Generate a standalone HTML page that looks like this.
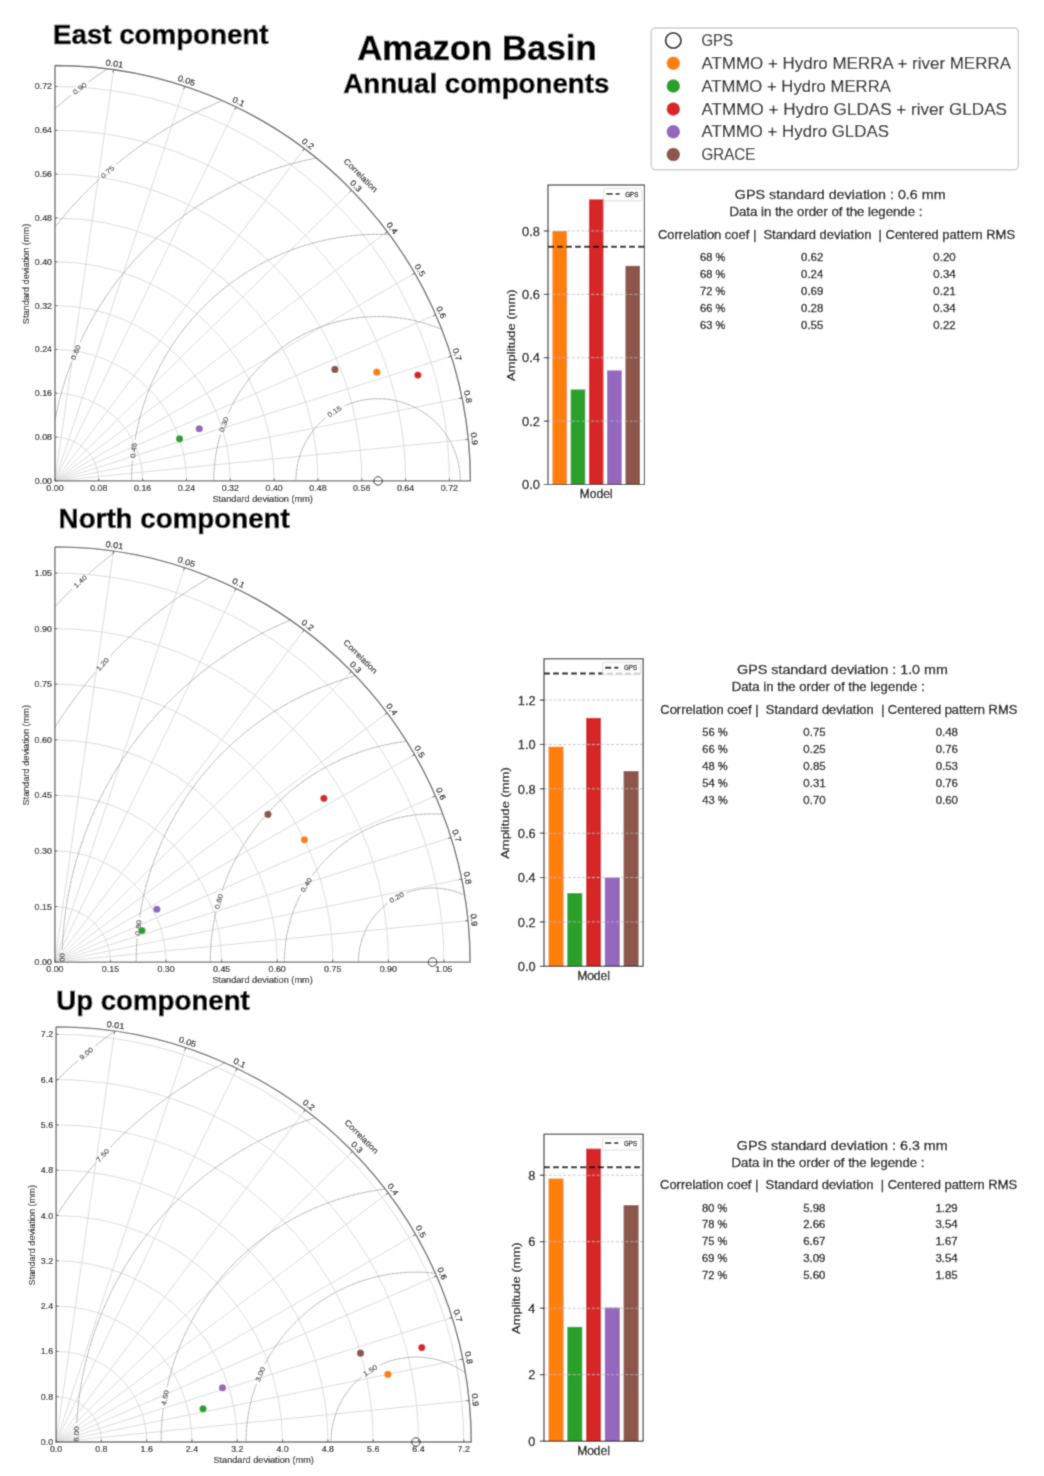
<!DOCTYPE html><html><head><meta charset="utf-8"><style>html,body{margin:0;padding:0;background:#fff;}svg{display:block;}</style></head><body><svg width="1044" height="1476" viewBox="0 0 1044 1476" font-family='"Liberation Sans", sans-serif'>
<defs><filter id="bl" x="0" y="0" width="1044" height="1476" filterUnits="userSpaceOnUse"><feConvolveMatrix order="3" kernelMatrix="0.0277 0.1110 0.0277 0.1110 0.4452 0.1110 0.0277 0.1110 0.0277" divisor="1" edgeMode="duplicate"/></filter></defs>
<rect width="1044" height="1476" fill="#fff"/>
<g filter="url(#bl)">
<rect width="1044" height="1476" fill="#fff"/>
<text x="53.00" y="44.19" font-size="27.20" text-anchor="start" fill="#000" font-weight="bold" stroke="#000" stroke-width="0.6" textLength="215.50" lengthAdjust="spacingAndGlyphs" style="white-space:pre">East component</text>
<text x="58.60" y="528.49" font-size="27.20" text-anchor="start" fill="#000" font-weight="bold" stroke="#000" stroke-width="0.6" textLength="231.20" lengthAdjust="spacingAndGlyphs" style="white-space:pre">North component</text>
<text x="56.20" y="1009.99" font-size="27.20" text-anchor="start" fill="#000" font-weight="bold" stroke="#000" stroke-width="0.6" textLength="193.60" lengthAdjust="spacingAndGlyphs" style="white-space:pre">Up component</text>
<text x="476.90" y="59.71" font-size="34.20" text-anchor="middle" fill="#000" font-weight="bold" stroke="#000" stroke-width="0.6" textLength="239.50" lengthAdjust="spacingAndGlyphs" style="white-space:pre">Amazon Basin</text>
<text x="476.30" y="92.99" font-size="27.20" text-anchor="middle" fill="#000" font-weight="bold" stroke="#000" stroke-width="0.6" textLength="266.00" lengthAdjust="spacingAndGlyphs" style="white-space:pre">Annual components</text>
<clipPath id="clipq1"><path d="M55.00,480.90 L470.40,480.90 A415.40,415.40 0 0 0 55.00,65.50 Z"/></clipPath>
<path d="M98.82,480.90 A43.82,43.82 0 0 0 55.00,437.08 M142.65,480.90 A87.65,87.65 0 0 0 55.00,393.25 M186.47,480.90 A131.47,131.47 0 0 0 55.00,349.43 M230.30,480.90 A175.30,175.30 0 0 0 55.00,305.60 M274.12,480.90 A219.12,219.12 0 0 0 55.00,261.78 M317.95,480.90 A262.95,262.95 0 0 0 55.00,217.95 M361.77,480.90 A306.77,306.77 0 0 0 55.00,174.13 M405.59,480.90 A350.59,350.59 0 0 0 55.00,130.31 M449.42,480.90 A394.42,394.42 0 0 0 55.00,86.48 M55.00,480.90 L113.60,69.65 M55.00,480.90 L184.71,86.27 M55.00,480.90 L236.07,107.04 M55.00,480.90 L304.24,148.58 M55.00,480.90 L351.65,190.12 M55.00,480.90 L387.32,231.66 M55.00,480.90 L414.75,273.20 M55.00,480.90 L435.72,314.74 M55.00,480.90 L451.27,356.28 M55.00,480.90 L462.01,397.82 M55.00,480.90 L468.32,439.36" fill="none" stroke="#d8d8d8" stroke-width="0.9"/>
<g clip-path="url(#clipq1)">
<text transform="translate(334.35,411.34) rotate(-32.16)" x="0" y="2.48" font-size="6.90" text-anchor="middle" fill="#333" stroke="#333" stroke-width="0.12" textLength="15.36" lengthAdjust="spacingAndGlyphs" style="white-space:pre">0.15</text>
</g>
<g clip-path="url(#clipq1)">
<text transform="translate(223.75,424.45) rotate(-69.91)" x="0" y="2.48" font-size="6.90" text-anchor="middle" fill="#333" stroke="#333" stroke-width="0.12" textLength="15.36" lengthAdjust="spacingAndGlyphs" style="white-space:pre">0.30</text>
</g>
<g clip-path="url(#clipq1)">
<text transform="translate(133.48,450.40) rotate(-82.89)" x="0" y="2.48" font-size="6.90" text-anchor="middle" fill="#333" stroke="#333" stroke-width="0.12" textLength="15.36" lengthAdjust="spacingAndGlyphs" style="white-space:pre">0.45</text>
</g>
<g clip-path="url(#clipq1)">
<text transform="translate(75.59,352.36) rotate(-66.98)" x="0" y="2.48" font-size="6.90" text-anchor="middle" fill="#333" stroke="#333" stroke-width="0.12" textLength="15.36" lengthAdjust="spacingAndGlyphs" style="white-space:pre">0.60</text>
</g>
<g clip-path="url(#clipq1)">
<text transform="translate(107.44,171.79) rotate(-41.21)" x="0" y="2.48" font-size="6.90" text-anchor="middle" fill="#333" stroke="#333" stroke-width="0.12" textLength="15.36" lengthAdjust="spacingAndGlyphs" style="white-space:pre">0.75</text>
</g>
<g clip-path="url(#clipq1)">
<text transform="translate(79.71,88.42) rotate(-37.24)" x="0" y="2.48" font-size="6.90" text-anchor="middle" fill="#333" stroke="#333" stroke-width="0.12" textLength="15.36" lengthAdjust="spacingAndGlyphs" style="white-space:pre">0.90</text>
</g>
<g clip-path="url(#clipq1)"><path d="M460.27,480.90 A82.17,82.17 0 0 0 344.04,406.12 M325.45,417.81 A82.17,82.17 0 0 0 295.92,480.90 M542.44,480.90 A164.34,164.34 0 0 0 227.88,414.24 M220.32,434.91 A164.34,164.34 0 0 0 213.75,480.90 M624.61,480.90 A246.51,246.51 0 0 0 135.08,439.50 M132.36,461.36 A246.51,246.51 0 0 0 131.58,480.90 M706.78,480.90 A328.68,328.68 0 0 0 80.07,342.29 M71.45,362.56 A328.68,328.68 0 0 0 49.41,480.90 M788.95,480.90 A410.85,410.85 0 0 0 115.83,164.65 M99.25,179.16 A410.85,410.85 0 0 0 -32.76,480.90 M871.12,480.90 A493.02,493.02 0 0 0 88.56,81.85 M71.02,95.18 A493.02,493.02 0 0 0 -114.93,480.90" fill="none" stroke="#8a8a8a" stroke-width="0.8" stroke-dasharray="2,0.6"/></g>
<path d="M55.00,65.50 L55.00,480.90 L470.40,480.90 A415.40,415.40 0 0 0 55.00,65.50" fill="none" stroke="#6c6c6c" stroke-width="1.4"/>
<path d="M55.00,480.90 v-2.5 M55.00,480.90 h2.5 M98.82,480.90 v-2.5 M55.00,437.08 h2.5 M142.65,480.90 v-2.5 M55.00,393.25 h2.5 M186.47,480.90 v-2.5 M55.00,349.43 h2.5 M230.30,480.90 v-2.5 M55.00,305.60 h2.5 M274.12,480.90 v-2.5 M55.00,261.78 h2.5 M317.95,480.90 v-2.5 M55.00,217.95 h2.5 M361.77,480.90 v-2.5 M55.00,174.13 h2.5 M405.59,480.90 v-2.5 M55.00,130.31 h2.5 M449.42,480.90 v-2.5 M55.00,86.48 h2.5 M113.60,69.65 L113.18,72.62 M184.71,86.27 L183.77,89.12 M236.07,107.04 L234.76,109.74 M304.24,148.58 L302.44,150.98 M351.65,190.12 L349.51,192.22 M387.32,231.66 L384.92,233.46 M414.75,273.20 L412.15,274.70 M435.72,314.74 L432.97,315.94 M451.27,356.28 L448.40,357.18 M462.01,397.82 L459.07,398.42 M468.32,439.36 L465.33,439.66" stroke="#555" stroke-width="0.9"/>
<text x="55.00" y="490.89" font-size="8.30" text-anchor="middle" fill="#000" stroke="#000" stroke-width="0.15" textLength="17.26" lengthAdjust="spacingAndGlyphs" style="white-space:pre">0.00</text>
<text x="52.00" y="483.89" font-size="8.30" text-anchor="end" fill="#000" stroke="#000" stroke-width="0.15" textLength="17.26" lengthAdjust="spacingAndGlyphs" style="white-space:pre">0.00</text>
<text x="98.82" y="490.89" font-size="8.30" text-anchor="middle" fill="#000" stroke="#000" stroke-width="0.15" textLength="17.26" lengthAdjust="spacingAndGlyphs" style="white-space:pre">0.08</text>
<text x="52.00" y="440.06" font-size="8.30" text-anchor="end" fill="#000" stroke="#000" stroke-width="0.15" textLength="17.26" lengthAdjust="spacingAndGlyphs" style="white-space:pre">0.08</text>
<text x="142.65" y="490.89" font-size="8.30" text-anchor="middle" fill="#000" stroke="#000" stroke-width="0.15" textLength="17.26" lengthAdjust="spacingAndGlyphs" style="white-space:pre">0.16</text>
<text x="52.00" y="396.24" font-size="8.30" text-anchor="end" fill="#000" stroke="#000" stroke-width="0.15" textLength="17.26" lengthAdjust="spacingAndGlyphs" style="white-space:pre">0.16</text>
<text x="186.47" y="490.89" font-size="8.30" text-anchor="middle" fill="#000" stroke="#000" stroke-width="0.15" textLength="17.26" lengthAdjust="spacingAndGlyphs" style="white-space:pre">0.24</text>
<text x="52.00" y="352.41" font-size="8.30" text-anchor="end" fill="#000" stroke="#000" stroke-width="0.15" textLength="17.26" lengthAdjust="spacingAndGlyphs" style="white-space:pre">0.24</text>
<text x="230.30" y="490.89" font-size="8.30" text-anchor="middle" fill="#000" stroke="#000" stroke-width="0.15" textLength="17.26" lengthAdjust="spacingAndGlyphs" style="white-space:pre">0.32</text>
<text x="52.00" y="308.59" font-size="8.30" text-anchor="end" fill="#000" stroke="#000" stroke-width="0.15" textLength="17.26" lengthAdjust="spacingAndGlyphs" style="white-space:pre">0.32</text>
<text x="274.12" y="490.89" font-size="8.30" text-anchor="middle" fill="#000" stroke="#000" stroke-width="0.15" textLength="17.26" lengthAdjust="spacingAndGlyphs" style="white-space:pre">0.40</text>
<text x="52.00" y="264.77" font-size="8.30" text-anchor="end" fill="#000" stroke="#000" stroke-width="0.15" textLength="17.26" lengthAdjust="spacingAndGlyphs" style="white-space:pre">0.40</text>
<text x="317.95" y="490.89" font-size="8.30" text-anchor="middle" fill="#000" stroke="#000" stroke-width="0.15" textLength="17.26" lengthAdjust="spacingAndGlyphs" style="white-space:pre">0.48</text>
<text x="52.00" y="220.94" font-size="8.30" text-anchor="end" fill="#000" stroke="#000" stroke-width="0.15" textLength="17.26" lengthAdjust="spacingAndGlyphs" style="white-space:pre">0.48</text>
<text x="361.77" y="490.89" font-size="8.30" text-anchor="middle" fill="#000" stroke="#000" stroke-width="0.15" textLength="17.26" lengthAdjust="spacingAndGlyphs" style="white-space:pre">0.56</text>
<text x="52.00" y="177.12" font-size="8.30" text-anchor="end" fill="#000" stroke="#000" stroke-width="0.15" textLength="17.26" lengthAdjust="spacingAndGlyphs" style="white-space:pre">0.56</text>
<text x="405.59" y="490.89" font-size="8.30" text-anchor="middle" fill="#000" stroke="#000" stroke-width="0.15" textLength="17.26" lengthAdjust="spacingAndGlyphs" style="white-space:pre">0.64</text>
<text x="52.00" y="133.29" font-size="8.30" text-anchor="end" fill="#000" stroke="#000" stroke-width="0.15" textLength="17.26" lengthAdjust="spacingAndGlyphs" style="white-space:pre">0.64</text>
<text x="449.42" y="490.89" font-size="8.30" text-anchor="middle" fill="#000" stroke="#000" stroke-width="0.15" textLength="17.26" lengthAdjust="spacingAndGlyphs" style="white-space:pre">0.72</text>
<text x="52.00" y="89.47" font-size="8.30" text-anchor="end" fill="#000" stroke="#000" stroke-width="0.15" textLength="17.26" lengthAdjust="spacingAndGlyphs" style="white-space:pre">0.72</text>
<text transform="translate(114.47,63.52) rotate(8.11)" x="0" y="2.99" font-size="8.30" text-anchor="middle" fill="#000" stroke="#000" stroke-width="0.18" textLength="17.81" lengthAdjust="spacingAndGlyphs" style="white-space:pre">0.01</text>
<text transform="translate(186.64,80.38) rotate(18.19)" x="0" y="2.99" font-size="8.30" text-anchor="middle" fill="#000" stroke="#000" stroke-width="0.18" textLength="17.81" lengthAdjust="spacingAndGlyphs" style="white-space:pre">0.05</text>
<text transform="translate(238.77,101.46) rotate(25.84)" x="0" y="2.99" font-size="8.30" text-anchor="middle" fill="#000" stroke="#000" stroke-width="0.18" textLength="12.72" lengthAdjust="spacingAndGlyphs" style="white-space:pre">0.1</text>
<text transform="translate(307.96,143.62) rotate(36.87)" x="0" y="2.99" font-size="8.30" text-anchor="middle" fill="#000" stroke="#000" stroke-width="0.18" textLength="12.72" lengthAdjust="spacingAndGlyphs" style="white-space:pre">0.2</text>
<text transform="translate(356.08,185.78) rotate(45.57)" x="0" y="2.99" font-size="8.30" text-anchor="middle" fill="#000" stroke="#000" stroke-width="0.18" textLength="12.72" lengthAdjust="spacingAndGlyphs" style="white-space:pre">0.3</text>
<text transform="translate(392.28,227.94) rotate(53.13)" x="0" y="2.99" font-size="8.30" text-anchor="middle" fill="#000" stroke="#000" stroke-width="0.18" textLength="12.72" lengthAdjust="spacingAndGlyphs" style="white-space:pre">0.4</text>
<text transform="translate(420.12,270.10) rotate(60.00)" x="0" y="2.99" font-size="8.30" text-anchor="middle" fill="#000" stroke="#000" stroke-width="0.18" textLength="12.72" lengthAdjust="spacingAndGlyphs" style="white-space:pre">0.5</text>
<text transform="translate(441.40,312.26) rotate(66.42)" x="0" y="2.99" font-size="8.30" text-anchor="middle" fill="#000" stroke="#000" stroke-width="0.18" textLength="12.72" lengthAdjust="spacingAndGlyphs" style="white-space:pre">0.6</text>
<text transform="translate(457.18,354.42) rotate(72.54)" x="0" y="2.99" font-size="8.30" text-anchor="middle" fill="#000" stroke="#000" stroke-width="0.18" textLength="12.72" lengthAdjust="spacingAndGlyphs" style="white-space:pre">0.7</text>
<text transform="translate(468.08,396.58) rotate(78.46)" x="0" y="2.99" font-size="8.30" text-anchor="middle" fill="#000" stroke="#000" stroke-width="0.18" textLength="12.72" lengthAdjust="spacingAndGlyphs" style="white-space:pre">0.8</text>
<text transform="translate(474.49,438.74) rotate(84.26)" x="0" y="2.99" font-size="8.30" text-anchor="middle" fill="#000" stroke="#000" stroke-width="0.18" textLength="12.72" lengthAdjust="spacingAndGlyphs" style="white-space:pre">0.9</text>
<text transform="translate(360.75,175.15) rotate(45.00)" x="0" y="2.99" font-size="8.30" text-anchor="middle" fill="#000" stroke="#000" stroke-width="0.12" textLength="44.11" lengthAdjust="spacingAndGlyphs" style="white-space:pre">Correlation</text>
<text x="262.70" y="502.09" font-size="8.30" text-anchor="middle" fill="#000" stroke="#000" stroke-width="0.12" textLength="100.49" lengthAdjust="spacingAndGlyphs" style="white-space:pre">Standard deviation (mm)</text>
<text transform="translate(26.30,274.00) rotate(-90.00)" x="0" y="2.99" font-size="8.30" text-anchor="middle" fill="#000" stroke="#000" stroke-width="0.12" textLength="100.49" lengthAdjust="spacingAndGlyphs" style="white-space:pre">Standard deviation (mm)</text>
<circle cx="376.78" cy="372.22" r="3.6" fill="#ff7f0e"/>
<circle cx="179.56" cy="438.83" r="3.6" fill="#2ca02c"/>
<circle cx="417.87" cy="375.06" r="3.6" fill="#d62728"/>
<circle cx="199.25" cy="428.75" r="3.6" fill="#9467bd"/>
<circle cx="334.91" cy="369.42" r="3.6" fill="#8c564b"/>
<circle cx="378.09" cy="480.90" r="4.3" fill="none" stroke="#222" stroke-width="1"/>
<clipPath id="clipq2"><path d="M54.90,962.10 L470.10,962.10 A415.20,415.20 0 0 0 54.90,546.90 Z"/></clipPath>
<path d="M110.47,962.10 A55.57,55.57 0 0 0 54.90,906.53 M166.04,962.10 A111.14,111.14 0 0 0 54.90,850.96 M221.62,962.10 A166.72,166.72 0 0 0 54.90,795.38 M277.19,962.10 A222.29,222.29 0 0 0 54.90,739.81 M332.76,962.10 A277.86,277.86 0 0 0 54.90,684.24 M388.33,962.10 A333.43,333.43 0 0 0 54.90,628.67 M443.91,962.10 A389.01,389.01 0 0 0 54.90,573.09 M54.90,962.10 L113.47,551.05 M54.90,962.10 L184.55,567.66 M54.90,962.10 L235.88,588.42 M54.90,962.10 L304.02,629.94 M54.90,962.10 L351.41,671.46 M54.90,962.10 L387.06,712.98 M54.90,962.10 L414.47,754.50 M54.90,962.10 L435.44,796.02 M54.90,962.10 L450.98,837.54 M54.90,962.10 L461.71,879.06 M54.90,962.10 L468.02,920.58" fill="none" stroke="#d8d8d8" stroke-width="0.9"/>
<g clip-path="url(#clipq2)">
<text transform="translate(396.58,897.33) rotate(-29.06)" x="0" y="2.48" font-size="6.90" text-anchor="middle" fill="#333" stroke="#333" stroke-width="0.12" textLength="15.36" lengthAdjust="spacingAndGlyphs" style="white-space:pre">0.20</text>
</g>
<g clip-path="url(#clipq2)">
<text transform="translate(306.08,884.89) rotate(-58.60)" x="0" y="2.48" font-size="6.90" text-anchor="middle" fill="#333" stroke="#333" stroke-width="0.12" textLength="15.36" lengthAdjust="spacingAndGlyphs" style="white-space:pre">0.40</text>
</g>
<g clip-path="url(#clipq2)">
<text transform="translate(218.69,901.52) rotate(-74.19)" x="0" y="2.48" font-size="6.90" text-anchor="middle" fill="#333" stroke="#333" stroke-width="0.12" textLength="15.36" lengthAdjust="spacingAndGlyphs" style="white-space:pre">0.60</text>
</g>
<g clip-path="url(#clipq2)">
<text transform="translate(138.18,927.73) rotate(-83.34)" x="0" y="2.48" font-size="6.90" text-anchor="middle" fill="#333" stroke="#333" stroke-width="0.12" textLength="15.36" lengthAdjust="spacingAndGlyphs" style="white-space:pre">0.80</text>
</g>
<g clip-path="url(#clipq2)">
<text transform="translate(62.09,960.70) rotate(-89.78)" x="0" y="2.48" font-size="6.90" text-anchor="middle" fill="#333" stroke="#333" stroke-width="0.12" textLength="15.36" lengthAdjust="spacingAndGlyphs" style="white-space:pre">1.00</text>
</g>
<g clip-path="url(#clipq2)">
<text transform="translate(102.51,664.26) rotate(-47.94)" x="0" y="2.48" font-size="6.90" text-anchor="middle" fill="#333" stroke="#333" stroke-width="0.12" textLength="15.36" lengthAdjust="spacingAndGlyphs" style="white-space:pre">1.20</text>
</g>
<g clip-path="url(#clipq2)">
<text transform="translate(80.21,581.49) rotate(-42.79)" x="0" y="2.48" font-size="6.90" text-anchor="middle" fill="#333" stroke="#333" stroke-width="0.12" textLength="15.36" lengthAdjust="spacingAndGlyphs" style="white-space:pre">1.40</text>
</g>
<g clip-path="url(#clipq2)"><path d="M506.67,962.10 A74.10,74.10 0 0 0 406.57,892.71 M387.39,903.37 A74.10,74.10 0 0 0 358.47,962.10 M580.76,962.10 A148.19,148.19 0 0 0 312.16,875.71 M300.69,894.50 A148.19,148.19 0 0 0 284.38,962.10 M654.86,962.10 A222.29,222.29 0 0 0 221.96,891.00 M215.96,912.19 A222.29,222.29 0 0 0 210.28,962.10 M728.96,962.10 A296.39,296.39 0 0 0 139.66,916.82 M137.11,938.70 A296.39,296.39 0 0 0 136.18,962.10 M803.05,962.10 A370.48,370.48 0 0 0 62.30,949.69 M877.15,962.10 A444.58,444.58 0 0 0 109.99,656.17 M95.23,672.53 A444.58,444.58 0 0 0 -12.01,962.10 M951.25,962.10 A518.68,518.68 0 0 0 88.37,574.09 M72.20,589.06 A518.68,518.68 0 0 0 -86.11,962.10" fill="none" stroke="#8a8a8a" stroke-width="0.8" stroke-dasharray="2,0.6"/></g>
<path d="M54.90,546.90 L54.90,962.10 L470.10,962.10 A415.20,415.20 0 0 0 54.90,546.90" fill="none" stroke="#6c6c6c" stroke-width="1.4"/>
<path d="M54.90,962.10 v-2.5 M54.90,962.10 h2.5 M110.47,962.10 v-2.5 M54.90,906.53 h2.5 M166.04,962.10 v-2.5 M54.90,850.96 h2.5 M221.62,962.10 v-2.5 M54.90,795.38 h2.5 M277.19,962.10 v-2.5 M54.90,739.81 h2.5 M332.76,962.10 v-2.5 M54.90,684.24 h2.5 M388.33,962.10 v-2.5 M54.90,628.67 h2.5 M443.91,962.10 v-2.5 M54.90,573.09 h2.5 M113.47,551.05 L113.05,554.02 M184.55,567.66 L183.61,570.51 M235.88,588.42 L234.57,591.12 M304.02,629.94 L302.22,632.34 M351.41,671.46 L349.27,673.56 M387.06,712.98 L384.66,714.78 M414.47,754.50 L411.88,756.00 M435.44,796.02 L432.69,797.22 M450.98,837.54 L448.11,838.44 M461.71,879.06 L458.77,879.66 M468.02,920.58 L465.03,920.88" stroke="#555" stroke-width="0.9"/>
<text x="54.90" y="972.09" font-size="8.30" text-anchor="middle" fill="#000" stroke="#000" stroke-width="0.15" textLength="17.26" lengthAdjust="spacingAndGlyphs" style="white-space:pre">0.00</text>
<text x="51.90" y="965.09" font-size="8.30" text-anchor="end" fill="#000" stroke="#000" stroke-width="0.15" textLength="17.26" lengthAdjust="spacingAndGlyphs" style="white-space:pre">0.00</text>
<text x="110.47" y="972.09" font-size="8.30" text-anchor="middle" fill="#000" stroke="#000" stroke-width="0.15" textLength="17.26" lengthAdjust="spacingAndGlyphs" style="white-space:pre">0.15</text>
<text x="51.90" y="909.52" font-size="8.30" text-anchor="end" fill="#000" stroke="#000" stroke-width="0.15" textLength="17.26" lengthAdjust="spacingAndGlyphs" style="white-space:pre">0.15</text>
<text x="166.04" y="972.09" font-size="8.30" text-anchor="middle" fill="#000" stroke="#000" stroke-width="0.15" textLength="17.26" lengthAdjust="spacingAndGlyphs" style="white-space:pre">0.30</text>
<text x="51.90" y="853.94" font-size="8.30" text-anchor="end" fill="#000" stroke="#000" stroke-width="0.15" textLength="17.26" lengthAdjust="spacingAndGlyphs" style="white-space:pre">0.30</text>
<text x="221.62" y="972.09" font-size="8.30" text-anchor="middle" fill="#000" stroke="#000" stroke-width="0.15" textLength="17.26" lengthAdjust="spacingAndGlyphs" style="white-space:pre">0.45</text>
<text x="51.90" y="798.37" font-size="8.30" text-anchor="end" fill="#000" stroke="#000" stroke-width="0.15" textLength="17.26" lengthAdjust="spacingAndGlyphs" style="white-space:pre">0.45</text>
<text x="277.19" y="972.09" font-size="8.30" text-anchor="middle" fill="#000" stroke="#000" stroke-width="0.15" textLength="17.26" lengthAdjust="spacingAndGlyphs" style="white-space:pre">0.60</text>
<text x="51.90" y="742.80" font-size="8.30" text-anchor="end" fill="#000" stroke="#000" stroke-width="0.15" textLength="17.26" lengthAdjust="spacingAndGlyphs" style="white-space:pre">0.60</text>
<text x="332.76" y="972.09" font-size="8.30" text-anchor="middle" fill="#000" stroke="#000" stroke-width="0.15" textLength="17.26" lengthAdjust="spacingAndGlyphs" style="white-space:pre">0.75</text>
<text x="51.90" y="687.23" font-size="8.30" text-anchor="end" fill="#000" stroke="#000" stroke-width="0.15" textLength="17.26" lengthAdjust="spacingAndGlyphs" style="white-space:pre">0.75</text>
<text x="388.33" y="972.09" font-size="8.30" text-anchor="middle" fill="#000" stroke="#000" stroke-width="0.15" textLength="17.26" lengthAdjust="spacingAndGlyphs" style="white-space:pre">0.90</text>
<text x="51.90" y="631.65" font-size="8.30" text-anchor="end" fill="#000" stroke="#000" stroke-width="0.15" textLength="17.26" lengthAdjust="spacingAndGlyphs" style="white-space:pre">0.90</text>
<text x="443.91" y="972.09" font-size="8.30" text-anchor="middle" fill="#000" stroke="#000" stroke-width="0.15" textLength="17.26" lengthAdjust="spacingAndGlyphs" style="white-space:pre">1.05</text>
<text x="51.90" y="576.08" font-size="8.30" text-anchor="end" fill="#000" stroke="#000" stroke-width="0.15" textLength="17.26" lengthAdjust="spacingAndGlyphs" style="white-space:pre">1.05</text>
<text transform="translate(114.35,544.91) rotate(8.11)" x="0" y="2.99" font-size="8.30" text-anchor="middle" fill="#000" stroke="#000" stroke-width="0.18" textLength="17.81" lengthAdjust="spacingAndGlyphs" style="white-space:pre">0.01</text>
<text transform="translate(186.48,561.77) rotate(18.19)" x="0" y="2.99" font-size="8.30" text-anchor="middle" fill="#000" stroke="#000" stroke-width="0.18" textLength="17.81" lengthAdjust="spacingAndGlyphs" style="white-space:pre">0.05</text>
<text transform="translate(238.58,582.84) rotate(25.84)" x="0" y="2.99" font-size="8.30" text-anchor="middle" fill="#000" stroke="#000" stroke-width="0.18" textLength="12.72" lengthAdjust="spacingAndGlyphs" style="white-space:pre">0.1</text>
<text transform="translate(307.74,624.98) rotate(36.87)" x="0" y="2.99" font-size="8.30" text-anchor="middle" fill="#000" stroke="#000" stroke-width="0.18" textLength="12.72" lengthAdjust="spacingAndGlyphs" style="white-space:pre">0.2</text>
<text transform="translate(355.84,667.12) rotate(45.57)" x="0" y="2.99" font-size="8.30" text-anchor="middle" fill="#000" stroke="#000" stroke-width="0.18" textLength="12.72" lengthAdjust="spacingAndGlyphs" style="white-space:pre">0.3</text>
<text transform="translate(392.02,709.26) rotate(53.13)" x="0" y="2.99" font-size="8.30" text-anchor="middle" fill="#000" stroke="#000" stroke-width="0.18" textLength="12.72" lengthAdjust="spacingAndGlyphs" style="white-space:pre">0.4</text>
<text transform="translate(419.84,751.40) rotate(60.00)" x="0" y="2.99" font-size="8.30" text-anchor="middle" fill="#000" stroke="#000" stroke-width="0.18" textLength="12.72" lengthAdjust="spacingAndGlyphs" style="white-space:pre">0.5</text>
<text transform="translate(441.12,793.54) rotate(66.42)" x="0" y="2.99" font-size="8.30" text-anchor="middle" fill="#000" stroke="#000" stroke-width="0.18" textLength="12.72" lengthAdjust="spacingAndGlyphs" style="white-space:pre">0.6</text>
<text transform="translate(456.89,835.68) rotate(72.54)" x="0" y="2.99" font-size="8.30" text-anchor="middle" fill="#000" stroke="#000" stroke-width="0.18" textLength="12.72" lengthAdjust="spacingAndGlyphs" style="white-space:pre">0.7</text>
<text transform="translate(467.79,877.82) rotate(78.46)" x="0" y="2.99" font-size="8.30" text-anchor="middle" fill="#000" stroke="#000" stroke-width="0.18" textLength="12.72" lengthAdjust="spacingAndGlyphs" style="white-space:pre">0.8</text>
<text transform="translate(474.19,919.96) rotate(84.26)" x="0" y="2.99" font-size="8.30" text-anchor="middle" fill="#000" stroke="#000" stroke-width="0.18" textLength="12.72" lengthAdjust="spacingAndGlyphs" style="white-space:pre">0.9</text>
<text transform="translate(360.51,656.49) rotate(45.00)" x="0" y="2.99" font-size="8.30" text-anchor="middle" fill="#000" stroke="#000" stroke-width="0.12" textLength="44.11" lengthAdjust="spacingAndGlyphs" style="white-space:pre">Correlation</text>
<text x="262.50" y="983.29" font-size="8.30" text-anchor="middle" fill="#000" stroke="#000" stroke-width="0.12" textLength="100.49" lengthAdjust="spacingAndGlyphs" style="white-space:pre">Standard deviation (mm)</text>
<text transform="translate(25.70,755.30) rotate(-90.00)" x="0" y="2.99" font-size="8.30" text-anchor="middle" fill="#000" stroke="#000" stroke-width="0.12" textLength="100.49" lengthAdjust="spacingAndGlyphs" style="white-space:pre">Standard deviation (mm)</text>
<circle cx="304.42" cy="839.84" r="3.6" fill="#ff7f0e"/>
<circle cx="142.00" cy="930.61" r="3.6" fill="#2ca02c"/>
<circle cx="323.89" cy="798.35" r="3.6" fill="#d62728"/>
<circle cx="156.88" cy="909.27" r="3.6" fill="#9467bd"/>
<circle cx="267.98" cy="814.28" r="3.6" fill="#8c564b"/>
<circle cx="432.57" cy="962.10" r="4.3" fill="none" stroke="#222" stroke-width="1"/>
<clipPath id="clipq3"><path d="M56.10,1442.00 L471.20,1442.00 A415.10,415.10 0 0 0 56.10,1026.90 Z"/></clipPath>
<path d="M101.40,1442.00 A45.30,45.30 0 0 0 56.10,1396.70 M146.70,1442.00 A90.60,90.60 0 0 0 56.10,1351.40 M191.99,1442.00 A135.89,135.89 0 0 0 56.10,1306.11 M237.29,1442.00 A181.19,181.19 0 0 0 56.10,1260.81 M282.59,1442.00 A226.49,226.49 0 0 0 56.10,1215.51 M327.89,1442.00 A271.79,271.79 0 0 0 56.10,1170.21 M373.19,1442.00 A317.09,317.09 0 0 0 56.10,1124.91 M418.48,1442.00 A362.38,362.38 0 0 0 56.10,1079.62 M463.78,1442.00 A407.68,407.68 0 0 0 56.10,1034.32 M56.10,1442.00 L114.66,1031.05 M56.10,1442.00 L185.71,1047.65 M56.10,1442.00 L237.04,1068.41 M56.10,1442.00 L305.16,1109.92 M56.10,1442.00 L352.54,1151.43 M56.10,1442.00 L388.18,1192.94 M56.10,1442.00 L415.59,1234.45 M56.10,1442.00 L436.55,1275.96 M56.10,1442.00 L452.08,1317.47 M56.10,1442.00 L462.81,1358.98 M56.10,1442.00 L469.12,1400.49" fill="none" stroke="#d8d8d8" stroke-width="0.9"/>
<g clip-path="url(#clipq3)">
<text transform="translate(370.24,1370.41) rotate(-32.55)" x="0" y="2.48" font-size="6.90" text-anchor="middle" fill="#333" stroke="#333" stroke-width="0.12" textLength="15.36" lengthAdjust="spacingAndGlyphs" style="white-space:pre">1.50</text>
</g>
<g clip-path="url(#clipq3)">
<text transform="translate(260.20,1374.18) rotate(-66.47)" x="0" y="2.48" font-size="6.90" text-anchor="middle" fill="#333" stroke="#333" stroke-width="0.12" textLength="15.36" lengthAdjust="spacingAndGlyphs" style="white-space:pre">3.00</text>
</g>
<g clip-path="url(#clipq3)">
<text transform="translate(165.01,1397.73) rotate(-79.99)" x="0" y="2.48" font-size="6.90" text-anchor="middle" fill="#333" stroke="#333" stroke-width="0.12" textLength="15.36" lengthAdjust="spacingAndGlyphs" style="white-space:pre">4.50</text>
</g>
<g clip-path="url(#clipq3)">
<text transform="translate(76.30,1434.00) rotate(-88.65)" x="0" y="2.48" font-size="6.90" text-anchor="middle" fill="#333" stroke="#333" stroke-width="0.12" textLength="15.36" lengthAdjust="spacingAndGlyphs" style="white-space:pre">6.00</text>
</g>
<g clip-path="url(#clipq3)">
<text transform="translate(102.60,1155.35) rotate(-47.55)" x="0" y="2.48" font-size="6.90" text-anchor="middle" fill="#333" stroke="#333" stroke-width="0.12" textLength="15.36" lengthAdjust="spacingAndGlyphs" style="white-space:pre">7.50</text>
</g>
<g clip-path="url(#clipq3)">
<text transform="translate(86.31,1053.36) rotate(-40.30)" x="0" y="2.48" font-size="6.90" text-anchor="middle" fill="#333" stroke="#333" stroke-width="0.12" textLength="15.36" lengthAdjust="spacingAndGlyphs" style="white-space:pre">9.00</text>
</g>
<g clip-path="url(#clipq3)"><path d="M500.87,1442.00 A84.93,84.93 0 0 0 379.88,1365.10 M361.36,1376.92 A84.93,84.93 0 0 0 331.00,1442.00 M585.80,1442.00 A169.87,169.87 0 0 0 264.92,1364.23 M256.13,1384.41 A169.87,169.87 0 0 0 246.07,1442.00 M670.74,1442.00 A254.80,254.80 0 0 0 167.16,1386.92 M163.33,1408.61 A254.80,254.80 0 0 0 161.13,1442.00 M755.67,1442.00 A339.74,339.74 0 0 0 76.73,1423.00 M840.61,1442.00 A424.67,424.67 0 0 0 110.14,1147.32 M95.27,1163.58 A424.67,424.67 0 0 0 -8.73,1442.00 M925.54,1442.00 A509.60,509.60 0 0 0 94.78,1046.33 M77.98,1060.58 A509.60,509.60 0 0 0 -93.67,1442.00" fill="none" stroke="#8a8a8a" stroke-width="0.8" stroke-dasharray="2,0.6"/></g>
<path d="M56.10,1026.90 L56.10,1442.00 L471.20,1442.00 A415.10,415.10 0 0 0 56.10,1026.90" fill="none" stroke="#6c6c6c" stroke-width="1.4"/>
<path d="M56.10,1442.00 v-2.5 M56.10,1442.00 h2.5 M101.40,1442.00 v-2.5 M56.10,1396.70 h2.5 M146.70,1442.00 v-2.5 M56.10,1351.40 h2.5 M191.99,1442.00 v-2.5 M56.10,1306.11 h2.5 M237.29,1442.00 v-2.5 M56.10,1260.81 h2.5 M282.59,1442.00 v-2.5 M56.10,1215.51 h2.5 M327.89,1442.00 v-2.5 M56.10,1170.21 h2.5 M373.19,1442.00 v-2.5 M56.10,1124.91 h2.5 M418.48,1442.00 v-2.5 M56.10,1079.62 h2.5 M463.78,1442.00 v-2.5 M56.10,1034.32 h2.5 M114.66,1031.05 L114.23,1034.02 M185.71,1047.65 L184.78,1050.51 M237.04,1068.41 L235.73,1071.11 M305.16,1109.92 L303.36,1112.32 M352.54,1151.43 L350.40,1153.53 M388.18,1192.94 L385.78,1194.74 M415.59,1234.45 L412.99,1235.95 M436.55,1275.96 L433.80,1277.16 M452.08,1317.47 L449.22,1318.37 M462.81,1358.98 L459.87,1359.58 M469.12,1400.49 L466.13,1400.79" stroke="#555" stroke-width="0.9"/>
<text x="56.10" y="1451.99" font-size="8.30" text-anchor="middle" fill="#000" stroke="#000" stroke-width="0.15" textLength="12.33" lengthAdjust="spacingAndGlyphs" style="white-space:pre">0.0</text>
<text x="53.10" y="1444.99" font-size="8.30" text-anchor="end" fill="#000" stroke="#000" stroke-width="0.15" textLength="12.33" lengthAdjust="spacingAndGlyphs" style="white-space:pre">0.0</text>
<text x="101.40" y="1451.99" font-size="8.30" text-anchor="middle" fill="#000" stroke="#000" stroke-width="0.15" textLength="12.33" lengthAdjust="spacingAndGlyphs" style="white-space:pre">0.8</text>
<text x="53.10" y="1399.69" font-size="8.30" text-anchor="end" fill="#000" stroke="#000" stroke-width="0.15" textLength="12.33" lengthAdjust="spacingAndGlyphs" style="white-space:pre">0.8</text>
<text x="146.70" y="1451.99" font-size="8.30" text-anchor="middle" fill="#000" stroke="#000" stroke-width="0.15" textLength="12.33" lengthAdjust="spacingAndGlyphs" style="white-space:pre">1.6</text>
<text x="53.10" y="1354.39" font-size="8.30" text-anchor="end" fill="#000" stroke="#000" stroke-width="0.15" textLength="12.33" lengthAdjust="spacingAndGlyphs" style="white-space:pre">1.6</text>
<text x="191.99" y="1451.99" font-size="8.30" text-anchor="middle" fill="#000" stroke="#000" stroke-width="0.15" textLength="12.33" lengthAdjust="spacingAndGlyphs" style="white-space:pre">2.4</text>
<text x="53.10" y="1309.09" font-size="8.30" text-anchor="end" fill="#000" stroke="#000" stroke-width="0.15" textLength="12.33" lengthAdjust="spacingAndGlyphs" style="white-space:pre">2.4</text>
<text x="237.29" y="1451.99" font-size="8.30" text-anchor="middle" fill="#000" stroke="#000" stroke-width="0.15" textLength="12.33" lengthAdjust="spacingAndGlyphs" style="white-space:pre">3.2</text>
<text x="53.10" y="1263.80" font-size="8.30" text-anchor="end" fill="#000" stroke="#000" stroke-width="0.15" textLength="12.33" lengthAdjust="spacingAndGlyphs" style="white-space:pre">3.2</text>
<text x="282.59" y="1451.99" font-size="8.30" text-anchor="middle" fill="#000" stroke="#000" stroke-width="0.15" textLength="12.33" lengthAdjust="spacingAndGlyphs" style="white-space:pre">4.0</text>
<text x="53.10" y="1218.50" font-size="8.30" text-anchor="end" fill="#000" stroke="#000" stroke-width="0.15" textLength="12.33" lengthAdjust="spacingAndGlyphs" style="white-space:pre">4.0</text>
<text x="327.89" y="1451.99" font-size="8.30" text-anchor="middle" fill="#000" stroke="#000" stroke-width="0.15" textLength="12.33" lengthAdjust="spacingAndGlyphs" style="white-space:pre">4.8</text>
<text x="53.10" y="1173.20" font-size="8.30" text-anchor="end" fill="#000" stroke="#000" stroke-width="0.15" textLength="12.33" lengthAdjust="spacingAndGlyphs" style="white-space:pre">4.8</text>
<text x="373.19" y="1451.99" font-size="8.30" text-anchor="middle" fill="#000" stroke="#000" stroke-width="0.15" textLength="12.33" lengthAdjust="spacingAndGlyphs" style="white-space:pre">5.6</text>
<text x="53.10" y="1127.90" font-size="8.30" text-anchor="end" fill="#000" stroke="#000" stroke-width="0.15" textLength="12.33" lengthAdjust="spacingAndGlyphs" style="white-space:pre">5.6</text>
<text x="418.48" y="1451.99" font-size="8.30" text-anchor="middle" fill="#000" stroke="#000" stroke-width="0.15" textLength="12.33" lengthAdjust="spacingAndGlyphs" style="white-space:pre">6.4</text>
<text x="53.10" y="1082.60" font-size="8.30" text-anchor="end" fill="#000" stroke="#000" stroke-width="0.15" textLength="12.33" lengthAdjust="spacingAndGlyphs" style="white-space:pre">6.4</text>
<text x="463.78" y="1451.99" font-size="8.30" text-anchor="middle" fill="#000" stroke="#000" stroke-width="0.15" textLength="12.33" lengthAdjust="spacingAndGlyphs" style="white-space:pre">7.2</text>
<text x="53.10" y="1037.31" font-size="8.30" text-anchor="end" fill="#000" stroke="#000" stroke-width="0.15" textLength="12.33" lengthAdjust="spacingAndGlyphs" style="white-space:pre">7.2</text>
<text transform="translate(115.53,1024.91) rotate(8.11)" x="0" y="2.99" font-size="8.30" text-anchor="middle" fill="#000" stroke="#000" stroke-width="0.18" textLength="17.81" lengthAdjust="spacingAndGlyphs" style="white-space:pre">0.01</text>
<text transform="translate(187.65,1041.76) rotate(18.19)" x="0" y="2.99" font-size="8.30" text-anchor="middle" fill="#000" stroke="#000" stroke-width="0.18" textLength="17.81" lengthAdjust="spacingAndGlyphs" style="white-space:pre">0.05</text>
<text transform="translate(239.74,1062.83) rotate(25.84)" x="0" y="2.99" font-size="8.30" text-anchor="middle" fill="#000" stroke="#000" stroke-width="0.18" textLength="12.72" lengthAdjust="spacingAndGlyphs" style="white-space:pre">0.1</text>
<text transform="translate(308.88,1104.96) rotate(36.87)" x="0" y="2.99" font-size="8.30" text-anchor="middle" fill="#000" stroke="#000" stroke-width="0.18" textLength="12.72" lengthAdjust="spacingAndGlyphs" style="white-space:pre">0.2</text>
<text transform="translate(356.97,1147.09) rotate(45.57)" x="0" y="2.99" font-size="8.30" text-anchor="middle" fill="#000" stroke="#000" stroke-width="0.18" textLength="12.72" lengthAdjust="spacingAndGlyphs" style="white-space:pre">0.3</text>
<text transform="translate(393.14,1189.22) rotate(53.13)" x="0" y="2.99" font-size="8.30" text-anchor="middle" fill="#000" stroke="#000" stroke-width="0.18" textLength="12.72" lengthAdjust="spacingAndGlyphs" style="white-space:pre">0.4</text>
<text transform="translate(420.96,1231.35) rotate(60.00)" x="0" y="2.99" font-size="8.30" text-anchor="middle" fill="#000" stroke="#000" stroke-width="0.18" textLength="12.72" lengthAdjust="spacingAndGlyphs" style="white-space:pre">0.5</text>
<text transform="translate(442.23,1273.48) rotate(66.42)" x="0" y="2.99" font-size="8.30" text-anchor="middle" fill="#000" stroke="#000" stroke-width="0.18" textLength="12.72" lengthAdjust="spacingAndGlyphs" style="white-space:pre">0.6</text>
<text transform="translate(457.99,1315.61) rotate(72.54)" x="0" y="2.99" font-size="8.30" text-anchor="middle" fill="#000" stroke="#000" stroke-width="0.18" textLength="12.72" lengthAdjust="spacingAndGlyphs" style="white-space:pre">0.7</text>
<text transform="translate(468.89,1357.74) rotate(78.46)" x="0" y="2.99" font-size="8.30" text-anchor="middle" fill="#000" stroke="#000" stroke-width="0.18" textLength="12.72" lengthAdjust="spacingAndGlyphs" style="white-space:pre">0.8</text>
<text transform="translate(475.29,1399.87) rotate(84.26)" x="0" y="2.99" font-size="8.30" text-anchor="middle" fill="#000" stroke="#000" stroke-width="0.18" textLength="12.72" lengthAdjust="spacingAndGlyphs" style="white-space:pre">0.9</text>
<text transform="translate(361.64,1136.46) rotate(45.00)" x="0" y="2.99" font-size="8.30" text-anchor="middle" fill="#000" stroke="#000" stroke-width="0.12" textLength="44.11" lengthAdjust="spacingAndGlyphs" style="white-space:pre">Correlation</text>
<text x="263.65" y="1463.19" font-size="8.30" text-anchor="middle" fill="#000" stroke="#000" stroke-width="0.12" textLength="100.49" lengthAdjust="spacingAndGlyphs" style="white-space:pre">Standard deviation (mm)</text>
<text transform="translate(32.10,1235.25) rotate(-90.00)" x="0" y="2.99" font-size="8.30" text-anchor="middle" fill="#000" stroke="#000" stroke-width="0.12" textLength="100.49" lengthAdjust="spacingAndGlyphs" style="white-space:pre">Standard deviation (mm)</text>
<circle cx="387.86" cy="1374.28" r="3.6" fill="#ff7f0e"/>
<circle cx="203.03" cy="1408.86" r="3.6" fill="#2ca02c"/>
<circle cx="421.78" cy="1347.58" r="3.6" fill="#d62728"/>
<circle cx="222.44" cy="1387.76" r="3.6" fill="#9467bd"/>
<circle cx="360.50" cy="1353.22" r="3.6" fill="#8c564b"/>
<circle cx="415.94" cy="1442.00" r="4.3" fill="none" stroke="#222" stroke-width="1"/>
<rect x="552.38" y="230.96" width="14.61" height="253.54" fill="#ff7f0e"/>
<rect x="570.64" y="389.42" width="14.61" height="95.08" fill="#2ca02c"/>
<rect x="588.90" y="199.26" width="14.61" height="285.24" fill="#d62728"/>
<rect x="607.15" y="370.40" width="14.61" height="114.10" fill="#9467bd"/>
<rect x="625.41" y="265.82" width="14.61" height="218.68" fill="#8c564b"/>
<path d="M548.00,484.50 H644.40 M548.00,421.11 H644.40 M548.00,357.73 H644.40 M548.00,294.34 H644.40 M548.00,230.96 H644.40" stroke="#b8b8b8" stroke-opacity="0.8" stroke-width="1" stroke-dasharray="2.8,2.0"/>
<path d="M548.00,246.80 H644.40" stroke="#111" stroke-width="1.9" stroke-dasharray="6,3"/>
<rect x="603.80" y="188.50" width="38" height="12.4" rx="1.5" fill="#fff" fill-opacity="0.82" stroke="#d8d8d8" stroke-width="0.8"/>
<path d="M606.40,193.90 h13.2" stroke="#111" stroke-width="1.9" stroke-dasharray="6.2,3"/>
<text x="625.30" y="196.55" font-size="6.80" text-anchor="start" fill="#222" stroke="#222" stroke-width="0.3" textLength="13.08" lengthAdjust="spacingAndGlyphs" style="white-space:pre">GPS</text>
<rect x="548.00" y="185.00" width="96.40" height="299.50" fill="none" stroke="#111" stroke-width="1"/>
<text x="539.90" y="489.22" font-size="12.00" text-anchor="end" fill="#000" stroke="#000" stroke-width="0.3" textLength="17.81" lengthAdjust="spacingAndGlyphs" style="white-space:pre">0.0</text>
<text x="539.90" y="425.83" font-size="12.00" text-anchor="end" fill="#000" stroke="#000" stroke-width="0.3" textLength="17.81" lengthAdjust="spacingAndGlyphs" style="white-space:pre">0.2</text>
<text x="539.90" y="362.45" font-size="12.00" text-anchor="end" fill="#000" stroke="#000" stroke-width="0.3" textLength="17.81" lengthAdjust="spacingAndGlyphs" style="white-space:pre">0.4</text>
<text x="539.90" y="299.06" font-size="12.00" text-anchor="end" fill="#000" stroke="#000" stroke-width="0.3" textLength="17.81" lengthAdjust="spacingAndGlyphs" style="white-space:pre">0.6</text>
<text x="539.90" y="235.68" font-size="12.00" text-anchor="end" fill="#000" stroke="#000" stroke-width="0.3" textLength="17.81" lengthAdjust="spacingAndGlyphs" style="white-space:pre">0.8</text>
<path d="M548.00,484.50 h-4.2 M548.00,421.11 h-4.2 M548.00,357.73 h-4.2 M548.00,294.34 h-4.2 M548.00,230.96 h-4.2" stroke="#111" stroke-width="1"/>
<text x="596.20" y="498.42" font-size="12.00" text-anchor="middle" fill="#000" stroke="#000" stroke-width="0.3" textLength="32.73" lengthAdjust="spacingAndGlyphs" style="white-space:pre">Model</text>
<text transform="translate(510.60,335.25) rotate(-90.00)" x="0" y="4.07" font-size="11.30" text-anchor="middle" fill="#000" stroke="#000" stroke-width="0.3" textLength="91.52" lengthAdjust="spacingAndGlyphs" style="white-space:pre">Amplitude (mm)</text>
<rect x="548.50" y="746.66" width="15.02" height="219.64" fill="#ff7f0e"/>
<rect x="567.27" y="893.09" width="15.02" height="73.21" fill="#2ca02c"/>
<rect x="586.04" y="717.82" width="15.02" height="248.48" fill="#d62728"/>
<rect x="604.81" y="877.56" width="15.02" height="88.74" fill="#9467bd"/>
<rect x="623.58" y="771.06" width="15.02" height="195.24" fill="#8c564b"/>
<path d="M544.00,966.30 H643.10 M544.00,921.93 H643.10 M544.00,877.56 H643.10 M544.00,833.18 H643.10 M544.00,788.81 H643.10 M544.00,744.44 H643.10 M544.00,700.07 H643.10" stroke="#b8b8b8" stroke-opacity="0.8" stroke-width="1" stroke-dasharray="2.8,2.0"/>
<path d="M544.00,673.44 H643.10" stroke="#111" stroke-width="1.9" stroke-dasharray="6,3"/>
<rect x="602.50" y="662.30" width="38" height="12.4" rx="1.5" fill="#fff" fill-opacity="0.82" stroke="#d8d8d8" stroke-width="0.8"/>
<path d="M605.10,667.70 h13.2" stroke="#111" stroke-width="1.9" stroke-dasharray="6.2,3"/>
<text x="624.00" y="670.35" font-size="6.80" text-anchor="start" fill="#222" stroke="#222" stroke-width="0.3" textLength="13.08" lengthAdjust="spacingAndGlyphs" style="white-space:pre">GPS</text>
<rect x="544.00" y="658.80" width="99.10" height="307.50" fill="none" stroke="#111" stroke-width="1"/>
<text x="535.60" y="971.02" font-size="12.00" text-anchor="end" fill="#000" stroke="#000" stroke-width="0.3" textLength="17.81" lengthAdjust="spacingAndGlyphs" style="white-space:pre">0.0</text>
<text x="535.60" y="926.65" font-size="12.00" text-anchor="end" fill="#000" stroke="#000" stroke-width="0.3" textLength="17.81" lengthAdjust="spacingAndGlyphs" style="white-space:pre">0.2</text>
<text x="535.60" y="882.28" font-size="12.00" text-anchor="end" fill="#000" stroke="#000" stroke-width="0.3" textLength="17.81" lengthAdjust="spacingAndGlyphs" style="white-space:pre">0.4</text>
<text x="535.60" y="837.90" font-size="12.00" text-anchor="end" fill="#000" stroke="#000" stroke-width="0.3" textLength="17.81" lengthAdjust="spacingAndGlyphs" style="white-space:pre">0.6</text>
<text x="535.60" y="793.53" font-size="12.00" text-anchor="end" fill="#000" stroke="#000" stroke-width="0.3" textLength="17.81" lengthAdjust="spacingAndGlyphs" style="white-space:pre">0.8</text>
<text x="535.60" y="749.16" font-size="12.00" text-anchor="end" fill="#000" stroke="#000" stroke-width="0.3" textLength="17.81" lengthAdjust="spacingAndGlyphs" style="white-space:pre">1.0</text>
<text x="535.60" y="704.79" font-size="12.00" text-anchor="end" fill="#000" stroke="#000" stroke-width="0.3" textLength="17.81" lengthAdjust="spacingAndGlyphs" style="white-space:pre">1.2</text>
<path d="M544.00,966.30 h-4.2 M544.00,921.93 h-4.2 M544.00,877.56 h-4.2 M544.00,833.18 h-4.2 M544.00,788.81 h-4.2 M544.00,744.44 h-4.2 M544.00,700.07 h-4.2" stroke="#111" stroke-width="1"/>
<text x="593.55" y="980.22" font-size="12.00" text-anchor="middle" fill="#000" stroke="#000" stroke-width="0.3" textLength="32.73" lengthAdjust="spacingAndGlyphs" style="white-space:pre">Model</text>
<text transform="translate(505.10,813.05) rotate(-90.00)" x="0" y="4.07" font-size="11.30" text-anchor="middle" fill="#000" stroke="#000" stroke-width="0.3" textLength="91.52" lengthAdjust="spacingAndGlyphs" style="white-space:pre">Amplitude (mm)</text>
<rect x="548.50" y="1178.52" width="15.02" height="262.68" fill="#ff7f0e"/>
<rect x="567.27" y="1326.82" width="15.02" height="114.38" fill="#2ca02c"/>
<rect x="586.04" y="1148.60" width="15.02" height="292.60" fill="#d62728"/>
<rect x="604.81" y="1307.53" width="15.02" height="133.67" fill="#9467bd"/>
<rect x="623.58" y="1205.12" width="15.02" height="236.08" fill="#8c564b"/>
<path d="M544.00,1441.20 H643.10 M544.00,1374.70 H643.10 M544.00,1308.20 H643.10 M544.00,1241.70 H643.10 M544.00,1175.20 H643.10" stroke="#b8b8b8" stroke-opacity="0.8" stroke-width="1" stroke-dasharray="2.8,2.0"/>
<path d="M544.00,1167.22 H643.10" stroke="#111" stroke-width="1.9" stroke-dasharray="6,3"/>
<rect x="602.50" y="1137.70" width="38" height="12.4" rx="1.5" fill="#fff" fill-opacity="0.82" stroke="#d8d8d8" stroke-width="0.8"/>
<path d="M605.10,1143.10 h13.2" stroke="#111" stroke-width="1.9" stroke-dasharray="6.2,3"/>
<text x="624.00" y="1145.75" font-size="6.80" text-anchor="start" fill="#222" stroke="#222" stroke-width="0.3" textLength="13.08" lengthAdjust="spacingAndGlyphs" style="white-space:pre">GPS</text>
<rect x="544.00" y="1134.20" width="99.10" height="307.00" fill="none" stroke="#111" stroke-width="1"/>
<text x="535.50" y="1445.92" font-size="12.00" text-anchor="end" fill="#000" stroke="#000" stroke-width="0.3" textLength="7.13" lengthAdjust="spacingAndGlyphs" style="white-space:pre">0</text>
<text x="535.50" y="1379.42" font-size="12.00" text-anchor="end" fill="#000" stroke="#000" stroke-width="0.3" textLength="7.13" lengthAdjust="spacingAndGlyphs" style="white-space:pre">2</text>
<text x="535.50" y="1312.92" font-size="12.00" text-anchor="end" fill="#000" stroke="#000" stroke-width="0.3" textLength="7.13" lengthAdjust="spacingAndGlyphs" style="white-space:pre">4</text>
<text x="535.50" y="1246.42" font-size="12.00" text-anchor="end" fill="#000" stroke="#000" stroke-width="0.3" textLength="7.13" lengthAdjust="spacingAndGlyphs" style="white-space:pre">6</text>
<text x="535.50" y="1179.92" font-size="12.00" text-anchor="end" fill="#000" stroke="#000" stroke-width="0.3" textLength="7.13" lengthAdjust="spacingAndGlyphs" style="white-space:pre">8</text>
<path d="M544.00,1441.20 h-4.2 M544.00,1374.70 h-4.2 M544.00,1308.20 h-4.2 M544.00,1241.70 h-4.2 M544.00,1175.20 h-4.2" stroke="#111" stroke-width="1"/>
<text x="593.55" y="1455.12" font-size="12.00" text-anchor="middle" fill="#000" stroke="#000" stroke-width="0.3" textLength="32.73" lengthAdjust="spacingAndGlyphs" style="white-space:pre">Model</text>
<text transform="translate(516.20,1288.20) rotate(-90.00)" x="0" y="4.07" font-size="11.30" text-anchor="middle" fill="#000" stroke="#000" stroke-width="0.3" textLength="91.52" lengthAdjust="spacingAndGlyphs" style="white-space:pre">Amplitude (mm)</text>
<rect x="651.2" y="28.0" width="367.1" height="141.7" rx="4" fill="#fff" stroke="#cdcdcd" stroke-width="1.4"/>
<circle cx="673.3" cy="40.50" r="7.7" fill="none" stroke="#111" stroke-width="1.8"/>
<text x="701.40" y="46.22" font-size="15.90" text-anchor="start" fill="#1a1a1a" stroke="#1a1a1a" stroke-width="0.15" textLength="31.70" lengthAdjust="spacingAndGlyphs" style="white-space:pre">GPS</text>
<circle cx="673.3" cy="63.30" r="6.75" fill="#ff7f0e"/>
<text x="701.40" y="69.02" font-size="15.90" text-anchor="start" fill="#1a1a1a" stroke="#1a1a1a" stroke-width="0.15" textLength="309.58" lengthAdjust="spacingAndGlyphs" style="white-space:pre">ATMMO + Hydro MERRA + river MERRA</text>
<circle cx="673.3" cy="86.10" r="6.75" fill="#2ca02c"/>
<text x="701.40" y="91.82" font-size="15.90" text-anchor="start" fill="#1a1a1a" stroke="#1a1a1a" stroke-width="0.15" textLength="189.46" lengthAdjust="spacingAndGlyphs" style="white-space:pre">ATMMO + Hydro MERRA</text>
<circle cx="673.3" cy="108.90" r="6.75" fill="#d62728"/>
<text x="701.40" y="114.62" font-size="15.90" text-anchor="start" fill="#1a1a1a" stroke="#1a1a1a" stroke-width="0.15" textLength="305.65" lengthAdjust="spacingAndGlyphs" style="white-space:pre">ATMMO + Hydro GLDAS + river GLDAS</text>
<circle cx="673.3" cy="131.70" r="6.75" fill="#9467bd"/>
<text x="701.40" y="137.42" font-size="15.90" text-anchor="start" fill="#1a1a1a" stroke="#1a1a1a" stroke-width="0.15" textLength="187.49" lengthAdjust="spacingAndGlyphs" style="white-space:pre">ATMMO + Hydro GLDAS</text>
<circle cx="673.3" cy="154.50" r="6.75" fill="#8c564b"/>
<text x="701.40" y="160.22" font-size="15.90" text-anchor="start" fill="#1a1a1a" stroke="#1a1a1a" stroke-width="0.15" textLength="53.96" lengthAdjust="spacingAndGlyphs" style="white-space:pre">GRACE</text>
<text x="840.20" y="199.35" font-size="13.20" text-anchor="middle" fill="#000" stroke="#000" stroke-width="0.3" textLength="210.83" lengthAdjust="spacingAndGlyphs" style="white-space:pre">GPS standard deviation : 0.6 mm</text>
<text x="825.90" y="216.28" font-size="11.90" text-anchor="middle" fill="#000" stroke="#000" stroke-width="0.3" textLength="192.88" lengthAdjust="spacingAndGlyphs" style="white-space:pre">Data in the order of the legende :</text>
<text x="836.50" y="238.88" font-size="11.90" text-anchor="middle" fill="#000" stroke="#000" stroke-width="0.3" textLength="357.03" lengthAdjust="spacingAndGlyphs" style="white-space:pre">Correlation coef |  Standard deviation  | Centered pattern RMS</text>
<text x="712.70" y="260.94" font-size="10.40" text-anchor="middle" fill="#000" stroke="#000" stroke-width="0.3" textLength="25.41" lengthAdjust="spacingAndGlyphs" style="white-space:pre">68 %</text>
<text x="812.20" y="260.94" font-size="10.40" text-anchor="middle" fill="#000" stroke="#000" stroke-width="0.3" textLength="22.27" lengthAdjust="spacingAndGlyphs" style="white-space:pre">0.62</text>
<text x="944.50" y="260.94" font-size="10.40" text-anchor="middle" fill="#000" stroke="#000" stroke-width="0.3" textLength="22.27" lengthAdjust="spacingAndGlyphs" style="white-space:pre">0.20</text>
<text x="712.70" y="277.87" font-size="10.40" text-anchor="middle" fill="#000" stroke="#000" stroke-width="0.3" textLength="25.41" lengthAdjust="spacingAndGlyphs" style="white-space:pre">68 %</text>
<text x="812.20" y="277.87" font-size="10.40" text-anchor="middle" fill="#000" stroke="#000" stroke-width="0.3" textLength="22.27" lengthAdjust="spacingAndGlyphs" style="white-space:pre">0.24</text>
<text x="944.50" y="277.87" font-size="10.40" text-anchor="middle" fill="#000" stroke="#000" stroke-width="0.3" textLength="22.27" lengthAdjust="spacingAndGlyphs" style="white-space:pre">0.34</text>
<text x="712.70" y="294.80" font-size="10.40" text-anchor="middle" fill="#000" stroke="#000" stroke-width="0.3" textLength="25.41" lengthAdjust="spacingAndGlyphs" style="white-space:pre">72 %</text>
<text x="812.20" y="294.80" font-size="10.40" text-anchor="middle" fill="#000" stroke="#000" stroke-width="0.3" textLength="22.27" lengthAdjust="spacingAndGlyphs" style="white-space:pre">0.69</text>
<text x="944.50" y="294.80" font-size="10.40" text-anchor="middle" fill="#000" stroke="#000" stroke-width="0.3" textLength="22.27" lengthAdjust="spacingAndGlyphs" style="white-space:pre">0.21</text>
<text x="712.70" y="311.73" font-size="10.40" text-anchor="middle" fill="#000" stroke="#000" stroke-width="0.3" textLength="25.41" lengthAdjust="spacingAndGlyphs" style="white-space:pre">66 %</text>
<text x="812.20" y="311.73" font-size="10.40" text-anchor="middle" fill="#000" stroke="#000" stroke-width="0.3" textLength="22.27" lengthAdjust="spacingAndGlyphs" style="white-space:pre">0.28</text>
<text x="944.50" y="311.73" font-size="10.40" text-anchor="middle" fill="#000" stroke="#000" stroke-width="0.3" textLength="22.27" lengthAdjust="spacingAndGlyphs" style="white-space:pre">0.34</text>
<text x="712.70" y="328.66" font-size="10.40" text-anchor="middle" fill="#000" stroke="#000" stroke-width="0.3" textLength="25.41" lengthAdjust="spacingAndGlyphs" style="white-space:pre">63 %</text>
<text x="812.20" y="328.66" font-size="10.40" text-anchor="middle" fill="#000" stroke="#000" stroke-width="0.3" textLength="22.27" lengthAdjust="spacingAndGlyphs" style="white-space:pre">0.55</text>
<text x="944.50" y="328.66" font-size="10.40" text-anchor="middle" fill="#000" stroke="#000" stroke-width="0.3" textLength="22.27" lengthAdjust="spacingAndGlyphs" style="white-space:pre">0.22</text>
<text x="842.50" y="674.35" font-size="13.20" text-anchor="middle" fill="#000" stroke="#000" stroke-width="0.3" textLength="210.83" lengthAdjust="spacingAndGlyphs" style="white-space:pre">GPS standard deviation : 1.0 mm</text>
<text x="828.20" y="691.28" font-size="11.90" text-anchor="middle" fill="#000" stroke="#000" stroke-width="0.3" textLength="192.88" lengthAdjust="spacingAndGlyphs" style="white-space:pre">Data in the order of the legende :</text>
<text x="838.80" y="713.88" font-size="11.90" text-anchor="middle" fill="#000" stroke="#000" stroke-width="0.3" textLength="357.03" lengthAdjust="spacingAndGlyphs" style="white-space:pre">Correlation coef |  Standard deviation  | Centered pattern RMS</text>
<text x="715.00" y="735.94" font-size="10.40" text-anchor="middle" fill="#000" stroke="#000" stroke-width="0.3" textLength="25.41" lengthAdjust="spacingAndGlyphs" style="white-space:pre">56 %</text>
<text x="814.50" y="735.94" font-size="10.40" text-anchor="middle" fill="#000" stroke="#000" stroke-width="0.3" textLength="22.27" lengthAdjust="spacingAndGlyphs" style="white-space:pre">0.75</text>
<text x="946.80" y="735.94" font-size="10.40" text-anchor="middle" fill="#000" stroke="#000" stroke-width="0.3" textLength="22.27" lengthAdjust="spacingAndGlyphs" style="white-space:pre">0.48</text>
<text x="715.00" y="752.87" font-size="10.40" text-anchor="middle" fill="#000" stroke="#000" stroke-width="0.3" textLength="25.41" lengthAdjust="spacingAndGlyphs" style="white-space:pre">66 %</text>
<text x="814.50" y="752.87" font-size="10.40" text-anchor="middle" fill="#000" stroke="#000" stroke-width="0.3" textLength="22.27" lengthAdjust="spacingAndGlyphs" style="white-space:pre">0.25</text>
<text x="946.80" y="752.87" font-size="10.40" text-anchor="middle" fill="#000" stroke="#000" stroke-width="0.3" textLength="22.27" lengthAdjust="spacingAndGlyphs" style="white-space:pre">0.76</text>
<text x="715.00" y="769.80" font-size="10.40" text-anchor="middle" fill="#000" stroke="#000" stroke-width="0.3" textLength="25.41" lengthAdjust="spacingAndGlyphs" style="white-space:pre">48 %</text>
<text x="814.50" y="769.80" font-size="10.40" text-anchor="middle" fill="#000" stroke="#000" stroke-width="0.3" textLength="22.27" lengthAdjust="spacingAndGlyphs" style="white-space:pre">0.85</text>
<text x="946.80" y="769.80" font-size="10.40" text-anchor="middle" fill="#000" stroke="#000" stroke-width="0.3" textLength="22.27" lengthAdjust="spacingAndGlyphs" style="white-space:pre">0.53</text>
<text x="715.00" y="786.73" font-size="10.40" text-anchor="middle" fill="#000" stroke="#000" stroke-width="0.3" textLength="25.41" lengthAdjust="spacingAndGlyphs" style="white-space:pre">54 %</text>
<text x="814.50" y="786.73" font-size="10.40" text-anchor="middle" fill="#000" stroke="#000" stroke-width="0.3" textLength="22.27" lengthAdjust="spacingAndGlyphs" style="white-space:pre">0.31</text>
<text x="946.80" y="786.73" font-size="10.40" text-anchor="middle" fill="#000" stroke="#000" stroke-width="0.3" textLength="22.27" lengthAdjust="spacingAndGlyphs" style="white-space:pre">0.76</text>
<text x="715.00" y="803.66" font-size="10.40" text-anchor="middle" fill="#000" stroke="#000" stroke-width="0.3" textLength="25.41" lengthAdjust="spacingAndGlyphs" style="white-space:pre">43 %</text>
<text x="814.50" y="803.66" font-size="10.40" text-anchor="middle" fill="#000" stroke="#000" stroke-width="0.3" textLength="22.27" lengthAdjust="spacingAndGlyphs" style="white-space:pre">0.70</text>
<text x="946.80" y="803.66" font-size="10.40" text-anchor="middle" fill="#000" stroke="#000" stroke-width="0.3" textLength="22.27" lengthAdjust="spacingAndGlyphs" style="white-space:pre">0.60</text>
<text x="842.30" y="1149.95" font-size="13.20" text-anchor="middle" fill="#000" stroke="#000" stroke-width="0.3" textLength="210.83" lengthAdjust="spacingAndGlyphs" style="white-space:pre">GPS standard deviation : 6.3 mm</text>
<text x="828.00" y="1166.88" font-size="11.90" text-anchor="middle" fill="#000" stroke="#000" stroke-width="0.3" textLength="192.88" lengthAdjust="spacingAndGlyphs" style="white-space:pre">Data in the order of the legende :</text>
<text x="838.60" y="1189.48" font-size="11.90" text-anchor="middle" fill="#000" stroke="#000" stroke-width="0.3" textLength="357.03" lengthAdjust="spacingAndGlyphs" style="white-space:pre">Correlation coef |  Standard deviation  | Centered pattern RMS</text>
<text x="714.80" y="1211.54" font-size="10.40" text-anchor="middle" fill="#000" stroke="#000" stroke-width="0.3" textLength="25.41" lengthAdjust="spacingAndGlyphs" style="white-space:pre">80 %</text>
<text x="814.30" y="1211.54" font-size="10.40" text-anchor="middle" fill="#000" stroke="#000" stroke-width="0.3" textLength="22.27" lengthAdjust="spacingAndGlyphs" style="white-space:pre">5.98</text>
<text x="946.60" y="1211.54" font-size="10.40" text-anchor="middle" fill="#000" stroke="#000" stroke-width="0.3" textLength="22.27" lengthAdjust="spacingAndGlyphs" style="white-space:pre">1.29</text>
<text x="714.80" y="1228.47" font-size="10.40" text-anchor="middle" fill="#000" stroke="#000" stroke-width="0.3" textLength="25.41" lengthAdjust="spacingAndGlyphs" style="white-space:pre">78 %</text>
<text x="814.30" y="1228.47" font-size="10.40" text-anchor="middle" fill="#000" stroke="#000" stroke-width="0.3" textLength="22.27" lengthAdjust="spacingAndGlyphs" style="white-space:pre">2.66</text>
<text x="946.60" y="1228.47" font-size="10.40" text-anchor="middle" fill="#000" stroke="#000" stroke-width="0.3" textLength="22.27" lengthAdjust="spacingAndGlyphs" style="white-space:pre">3.54</text>
<text x="714.80" y="1245.40" font-size="10.40" text-anchor="middle" fill="#000" stroke="#000" stroke-width="0.3" textLength="25.41" lengthAdjust="spacingAndGlyphs" style="white-space:pre">75 %</text>
<text x="814.30" y="1245.40" font-size="10.40" text-anchor="middle" fill="#000" stroke="#000" stroke-width="0.3" textLength="22.27" lengthAdjust="spacingAndGlyphs" style="white-space:pre">6.67</text>
<text x="946.60" y="1245.40" font-size="10.40" text-anchor="middle" fill="#000" stroke="#000" stroke-width="0.3" textLength="22.27" lengthAdjust="spacingAndGlyphs" style="white-space:pre">1.67</text>
<text x="714.80" y="1262.33" font-size="10.40" text-anchor="middle" fill="#000" stroke="#000" stroke-width="0.3" textLength="25.41" lengthAdjust="spacingAndGlyphs" style="white-space:pre">69 %</text>
<text x="814.30" y="1262.33" font-size="10.40" text-anchor="middle" fill="#000" stroke="#000" stroke-width="0.3" textLength="22.27" lengthAdjust="spacingAndGlyphs" style="white-space:pre">3.09</text>
<text x="946.60" y="1262.33" font-size="10.40" text-anchor="middle" fill="#000" stroke="#000" stroke-width="0.3" textLength="22.27" lengthAdjust="spacingAndGlyphs" style="white-space:pre">3.54</text>
<text x="714.80" y="1279.26" font-size="10.40" text-anchor="middle" fill="#000" stroke="#000" stroke-width="0.3" textLength="25.41" lengthAdjust="spacingAndGlyphs" style="white-space:pre">72 %</text>
<text x="814.30" y="1279.26" font-size="10.40" text-anchor="middle" fill="#000" stroke="#000" stroke-width="0.3" textLength="22.27" lengthAdjust="spacingAndGlyphs" style="white-space:pre">5.60</text>
<text x="946.60" y="1279.26" font-size="10.40" text-anchor="middle" fill="#000" stroke="#000" stroke-width="0.3" textLength="22.27" lengthAdjust="spacingAndGlyphs" style="white-space:pre">1.85</text>
</g>
</svg></body></html>
